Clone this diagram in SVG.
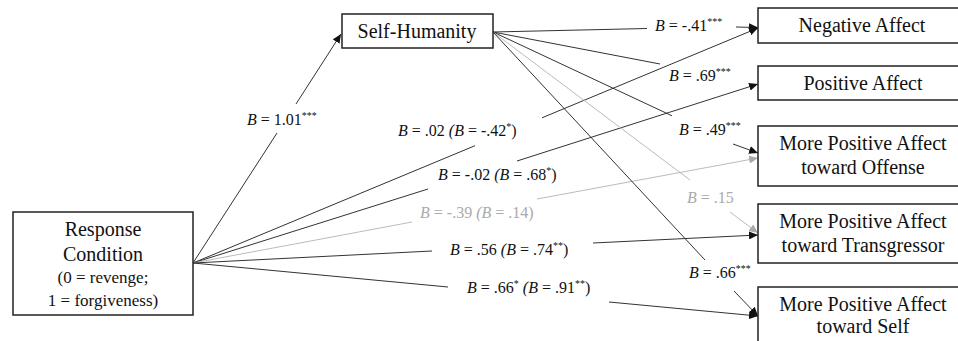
<svg xmlns="http://www.w3.org/2000/svg" width="958" height="341" viewBox="0 0 958 341" style="font-family:'Liberation Serif','Times New Roman',Tinos,'DejaVu Serif','Noto Serif',serif">
<style>
.box{fill:#fff;stroke:#222;stroke-width:1.5}
text{fill:#111;font-family:'Liberation Serif','Times New Roman',Tinos,'DejaVu Serif','Noto Serif',serif}
.n{font-size:20px;text-anchor:middle}
.s{font-size:17px;text-anchor:middle}
.l{font-size:16px}
.g{fill:#aaa}
.i{font-style:italic}
.sup{font-size:10px}
.c{fill:none;stroke:#333;stroke-width:1}
.cg{fill:none;stroke:#bbb;stroke-width:1}
</style>
<defs>
<marker id="ah" markerUnits="userSpaceOnUse" markerWidth="10" markerHeight="8" refX="9" refY="4" orient="auto"><path d="M0,0 L9,4 L0,8 Z" fill="#111"/></marker>
<marker id="ahg" markerUnits="userSpaceOnUse" markerWidth="10" markerHeight="8" refX="9" refY="4" orient="auto"><path d="M0,0 L9,4 L0,8 Z" fill="#aaa"/></marker>
</defs>
<rect width="958" height="341" fill="#fff"/>
<g id="connectors">
<path class="c" d="M193,263 L277,133 M296,104 L341,34" marker-end="url(#ah)"/>
<path class="c" d="M193,263 L475,145.7 M542,117.8 L758,28" marker-end="url(#ah)"/>
<path class="c" d="M193,263 L428,189 M517,161 L758,84" marker-end="url(#ah)"/>
<path class="cg" d="M193,263 L412,222 M537,199 L758,158" marker-end="url(#ahg)"/>
<path class="c" d="M193,263 L432,251 M593,243 L758,235" marker-end="url(#ah)"/>
<path class="c" d="M193,263 L448,287 M609,302 L758,316" marker-end="url(#ah)"/>
<path class="c" d="M493,32 L647,28.5 M736,27 L758,27.5" marker-end="url(#ah)"/>
<path class="c" d="M493,32 L660,64"/>
<path class="c" d="M493,32 L672,115.8 M733,144 L758,153" marker-end="url(#ah)"/>
<path class="cg" d="M493,32 L690,180 M730,212 L758,233" marker-end="url(#ahg)"/>
<path class="c" d="M493,32 L705,260 M734,291 L758,316" marker-end="url(#ah)"/>
</g>
<g id="self-humanity">
<rect class="box" x="342" y="14" width="151" height="34"/>
<text class="n" x="417" y="38">Self-Humanity</text>
</g>
<g id="response-condition">
<rect class="box" x="13" y="212" width="180" height="103"/>
<text class="n" x="103" y="236">Response</text>
<text class="n" x="103" y="261">Condition</text>
<text class="s" x="103" y="283">(0 = revenge;</text>
<text class="s" x="103" y="306">1 = forgiveness)</text>
</g>
<g id="negative-affect">
<rect class="box" x="758" y="8" width="220" height="35"/>
<text class="n" x="862" y="32">Negative Affect</text>
</g>
<g id="positive-affect">
<rect class="box" x="758" y="66" width="220" height="34"/>
<text class="n" x="863" y="90">Positive Affect</text>
</g>
<g id="affect-offense">
<rect class="box" x="758" y="126" width="220" height="60"/>
<text class="n" x="863" y="150">More Positive Affect</text>
<text class="n" x="863" y="174">toward Offense</text>
</g>
<g id="affect-transgressor">
<rect class="box" x="758" y="204" width="220" height="59"/>
<text class="n" x="863" y="228">More Positive Affect</text>
<text class="n" x="863" y="252">toward Transgressor</text>
</g>
<g id="affect-self">
<rect class="box" x="758" y="287" width="220" height="70"/>
<text class="n" x="863" y="311">More Positive Affect</text>
<text class="n" x="863" y="333">toward Self</text>
</g>
<g id="labels">
<text class="l" x="247" y="125"><tspan class="i">B</tspan> = 1.01<tspan class="sup" dy="-6">***</tspan></text>
<text class="l" x="655" y="31"><tspan class="i">B</tspan> = -.41<tspan class="sup" dy="-6">***</tspan></text>
<text class="l" x="669" y="81"><tspan class="i">B</tspan> = .69<tspan class="sup" dy="-6">***</tspan></text>
<text class="l" x="679" y="135"><tspan class="i">B</tspan> = .49<tspan class="sup" dy="-6">***</tspan></text>
<text class="l g" x="687" y="203"><tspan class="i">B</tspan> = .15</text>
<text class="l" x="689" y="278"><tspan class="i">B</tspan> = .66<tspan class="sup" dy="-6">***</tspan></text>
<text class="l" x="398" y="136"><tspan class="i">B</tspan> = .02 <tspan class="i">(B</tspan> = -.42<tspan class="sup" dy="-6">*</tspan><tspan dy="6">)</tspan></text>
<text class="l" x="438" y="180"><tspan class="i">B</tspan> = -.02 <tspan class="i">(B</tspan> = .68<tspan class="sup" dy="-6">*</tspan><tspan dy="6">)</tspan></text>
<text class="l g" x="420" y="218"><tspan class="i">B</tspan> = -.39 <tspan class="i">(B</tspan> = .14)</text>
<text class="l" x="450" y="255"><tspan class="i">B</tspan> = .56 <tspan class="i">(B</tspan> = .74<tspan class="sup" dy="-6">**</tspan><tspan dy="6">)</tspan></text>
<text class="l" x="467" y="293"><tspan class="i">B</tspan> = .66<tspan class="sup" dy="-6">*</tspan> <tspan class="i" dy="6">(B</tspan> = .91<tspan class="sup" dy="-6">**</tspan><tspan dy="6">)</tspan></text>
</g>
</svg>
